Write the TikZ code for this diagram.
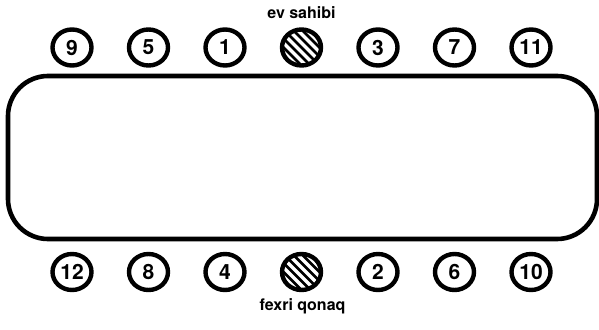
\documentclass[tikz,border=0pt]{standalone}
\usepackage{fontspec}
\setmainfont{TeX Gyre Heros}
\usetikzlibrary{shapes.geometric,calc}
\tikzset{
  seat/.style={draw, ellipse, line width=4.4pt, minimum width=39pt, minimum height=36pt, inner sep=0pt, font=\fontsize{21}{21}\selectfont\bfseries},
  hostseat/.style={seat, path picture={
    \foreach \d in {-36,-27,...,36}{
      \draw[line width=2.6pt] ($(path picture bounding box.center)+(\d-26pt,26pt)$) -- ++(52pt,-52pt);
    }}},
  tbl/.style={draw, line width=4.6pt, rounded corners=40pt, minimum width=589pt, minimum height=163pt, inner sep=0pt},
  lbl/.style={font=\fontsize{16}{16}\selectfont\bfseries, inner sep=0pt}
}
\begin{document}
\begin{tikzpicture}[x=1pt,y=-1pt]
\useasboundingbox (0,0) rectangle (599,329);
\node[tbl] (table) at (302.5,157.5) {};
% top row
\node[seat] (s9) at (72,47.5) {9};
\node[seat] (s5) at (148.5,47.5) {5};
\node[seat] (s1) at (225,47.5) {1};
\node[hostseat] (host) at (301.5,47.5) {};
\node[seat] (s3) at (378,47.5) {3};
\node[seat] (s7) at (454.5,47.5) {7};
\node[seat] (s11) at (531,47.5) {11};
% bottom row
\node[seat] (s12) at (72,272) {12};
\node[seat] (s8) at (148.5,272) {8};
\node[seat] (s4) at (225,272) {4};
\node[hostseat] (guest) at (301.5,272) {};
\node[seat] (s2) at (378,272) {2};
\node[seat] (s6) at (454.5,272) {6};
\node[seat] (s10) at (531,272) {10};
% labels
\node[lbl] (lhost) at (301.5,13) {ev sahibi};
\node[lbl] (lguest) at (302.5,306) {fexri qonaq};
\end{tikzpicture}
\end{document}
